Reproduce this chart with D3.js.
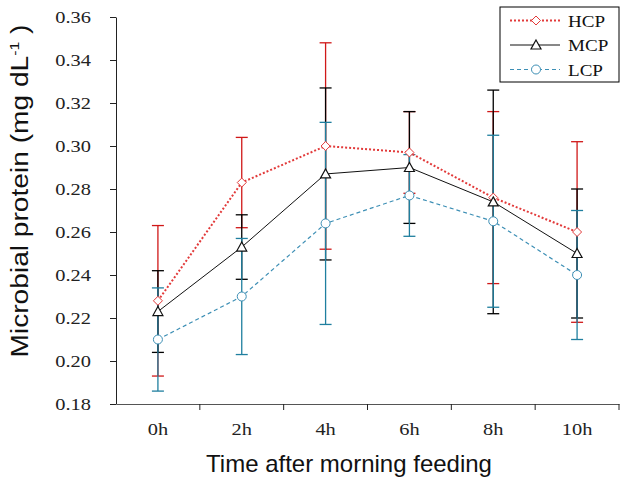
<!DOCTYPE html>
<html>
<head>
<meta charset="utf-8">
<script src="https://cdn.jsdelivr.net/npm/d3@7"></script>
<style>
  body { margin: 0; background: #fff; }
  svg { display: block; }
</style>
</head>
<body>
<div id="chart"></div>
<script>
const times = ["0h", "2h", "4h", "6h", "8h", "10h"];
const seriesNames = ["HCP", "MCP", "LCP"];
const hcp = [0.228, 0.283, 0.300, 0.297, 0.276, 0.260];
const hcpErr = [0.035, 0.021, 0.048, 0.019, 0.040, 0.042];
const mcp = [0.223, 0.253, 0.287, 0.290, 0.274, 0.250];
const mcpErr = [0.019, 0.015, 0.040, 0.026, 0.052, 0.030];
const lcp = [0.210, 0.230, 0.264, 0.277, 0.265, 0.240];
const lcpErr = [0.024, 0.027, 0.047, 0.019, 0.040, 0.030];
const yTicks = [0.18, 0.20, 0.22, 0.24, 0.26, 0.28, 0.30, 0.32, 0.34, 0.36];

const width = 629;
const height = 485;
const margin = { top: 17, right: 10, bottom: 81, left: 116 };
const serif = "'Liberation Serif', 'Times New Roman', serif";
const sans = "'Liberation Sans', Arial, sans-serif";

const svg = d3
  .select("#chart")
  .append("svg")
  .attr("width", width)
  .attr("height", height);

// the serif labels in the original are wider than Liberation Serif, so widen them
function stretch(sel, k) {
  sel.each(function () {
    const w = this.getComputedTextLength();
    d3.select(this).attr("textLength", w * k).attr("lengthAdjust", "spacingAndGlyphs");
  });
}

const x = d3
  .scaleBand()
  .domain(times)
  .range([margin.left, 619])
  .padding(0);

const y = d3
  .scaleLinear()
  .domain([0.18, 0.36])
  .range([height - margin.bottom, margin.top]);

const series = [
  { name: "HCP", values: hcp, err: hcpErr, line: "#e23a3a", bar: "#d01818", dash: "2,2", lw: 2, marker: "diamond" },
  { name: "MCP", values: mcp, err: mcpErr, line: "#111", bar: "#000", dash: null, lw: 1, marker: "triangle" },
  { name: "LCP", values: lcp, err: lcpErr, line: "#3d8fb5", bar: "#1f7f9f", dash: "4,3", lw: 1.2, marker: "circle" }
];

const cx = (i) => x(times[i]) + x.bandwidth() / 2;

// axes
const yAxis = svg
  .append("g")
  .attr("transform", `translate(${margin.left},0)`)
  .call(d3.axisLeft(y).tickValues(yTicks).tickFormat(d3.format(".2f")).tickSize(6).tickSizeOuter(0).tickPadding(19));
yAxis.select(".domain").attr("stroke", "#222");
yAxis.selectAll(".tick line").attr("stroke", "#222");
yAxis
  .selectAll(".tick text")
  .attr("fill", "#222")
  .style("font-family", serif)
  .style("font-size", "17px")
  .call(stretch, 1.2);

const xAxis = svg
  .append("g")
  .attr("transform", `translate(0,${y(0.18)})`)
  .call(d3.axisBottom(x).tickSize(0).tickSizeOuter(0).tickPadding(19));
xAxis.select(".domain").attr("stroke", "#555");
xAxis
  .selectAll(".tick text")
  .attr("fill", "#222")
  .style("font-family", serif)
  .style("font-size", "17px")
  .call(stretch, 1.2);

// boundary ticks between categories
xAxis
  .selectAll(".bound")
  .data(times)
  .join("line")
  .attr("class", "bound")
  .attr("x1", (d) => x(d) + x.bandwidth())
  .attr("x2", (d) => x(d) + x.bandwidth())
  .attr("y1", 0)
  .attr("y2", 6)
  .attr("stroke", "#222");

// error bars (HCP first, LCP on top)
series.forEach((s) => {
  const g = svg.append("g");
  s.values.forEach((v, i) => {
    const top = y(v + s.err[i]);
    const bot = y(v - s.err[i]);
    g.append("line")
      .attr("x1", cx(i)).attr("x2", cx(i))
      .attr("y1", top).attr("y2", bot)
      .attr("stroke", s.bar).attr("stroke-width", 1.3);
    [top, bot].forEach((yy) => {
      g.append("line")
        .attr("x1", cx(i) - 6).attr("x2", cx(i) + 6)
        .attr("y1", yy).attr("y2", yy)
        .attr("stroke", s.bar).attr("stroke-width", 1.3);
    });
  });
});

function drawMarker(g, type, px, py, color) {
  if (type === "diamond") {
    g.append("path")
      .attr("d", `M${px},${py - 4.5}L${px + 4.5},${py}L${px},${py + 4.5}L${px - 4.5},${py}Z`)
      .attr("fill", "#fff").attr("stroke", color).attr("stroke-width", 1);
  } else if (type === "triangle") {
    g.append("path")
      .attr("d", `M${px},${py - 5}L${px + 5},${py + 4}L${px - 5},${py + 4}Z`)
      .attr("fill", "#fff").attr("stroke", color).attr("stroke-width", 1.2);
  } else {
    g.append("circle")
      .attr("cx", px).attr("cy", py).attr("r", 4.5)
      .attr("fill", "#fff").attr("stroke", color).attr("stroke-width", 1);
  }
}

// lines and markers
series.forEach((s) => {
  const line = d3.line().x((d, i) => cx(i)).y((d) => y(d));
  svg
    .append("path")
    .datum(s.values)
    .attr("d", line)
    .attr("fill", "none")
    .attr("stroke", s.line)
    .attr("stroke-width", s.lw)
    .attr("stroke-dasharray", s.dash);
  const g = svg.append("g");
  s.values.forEach((v, i) => drawMarker(g, s.marker, cx(i), y(v), s.line));
});

// legend
const legend = svg.append("g").attr("transform", "translate(500,7)");
legend
  .append("rect")
  .attr("width", 119)
  .attr("height", 75)
  .attr("fill", "#fff")
  .attr("stroke", "#000")
  .attr("stroke-width", 1);
series.forEach((s, i) => {
  const ly = 13.5 + i * 24.5;
  legend
    .append("line")
    .attr("x1", 10).attr("x2", 60)
    .attr("y1", ly).attr("y2", ly)
    .attr("stroke", s.line)
    .attr("stroke-width", s.lw)
    .attr("stroke-dasharray", s.dash);
  drawMarker(legend, s.marker, 36, ly, s.line);
  legend
    .append("text")
    .attr("x", 68)
    .attr("y", ly + 6)
    .style("font-family", serif)
    .style("font-size", "17px")
    .attr("fill", "#111")
    .text(seriesNames[i])
    .call(stretch, 1.12);
});

// axis titles
svg
  .append("text")
  .attr("x", 349)
  .attr("y", 472)
  .attr("text-anchor", "middle")
  .style("font-family", sans)
  .style("font-size", "24px")
  .attr("fill", "#111")
  .text("Time after morning feeding");

const yTitle = svg
  .append("text")
  .attr("transform", "translate(28,191) rotate(-90)")
  .attr("text-anchor", "middle")
  .style("font-family", sans)
  .style("font-size", "23px")
  .attr("fill", "#111");
yTitle.append("tspan").text("Microbial protein (mg dL");
yTitle.append("tspan").attr("dy", -9).style("font-size", "13px").text("-1");
yTitle.append("tspan").attr("dy", 9).text(" )");
yTitle.attr("textLength", 333).attr("lengthAdjust", "spacingAndGlyphs");
</script>
</body>
</html>
